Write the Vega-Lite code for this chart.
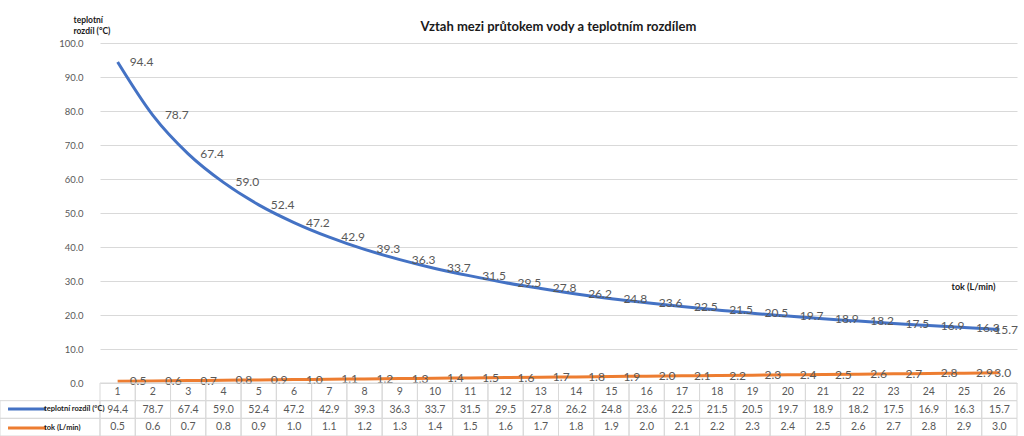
{
  "$schema": "https://vega.github.io/schema/vega-lite/v6.json",
  "autosize": "none",
  "width": 917,
  "height": 340,
  "padding": {"left": 100, "top": 43, "right": 7, "bottom": 53},
  "background": "white",
  "config": {"view": {"stroke": null}, "font": "Lato"},
  "title": {
    "text": "Vztah mezi průtokem vody a teplotním rozdílem",
    "fontSize": 13,
    "fontWeight": "bold",
    "color": "#1a1a1a",
    "anchor": "middle",
    "offset": -19
  },
  "datasets": {
    "d": [
      {"i": 1, "teplota": 94.4, "tok": 0.5},
      {"i": 2, "teplota": 78.7, "tok": 0.6},
      {"i": 3, "teplota": 67.4, "tok": 0.7},
      {"i": 4, "teplota": 59.0, "tok": 0.8},
      {"i": 5, "teplota": 52.4, "tok": 0.9},
      {"i": 6, "teplota": 47.2, "tok": 1.0},
      {"i": 7, "teplota": 42.9, "tok": 1.1},
      {"i": 8, "teplota": 39.3, "tok": 1.2},
      {"i": 9, "teplota": 36.3, "tok": 1.3},
      {"i": 10, "teplota": 33.7, "tok": 1.4},
      {"i": 11, "teplota": 31.5, "tok": 1.5},
      {"i": 12, "teplota": 29.5, "tok": 1.6},
      {"i": 13, "teplota": 27.8, "tok": 1.7},
      {"i": 14, "teplota": 26.2, "tok": 1.8},
      {"i": 15, "teplota": 24.8, "tok": 1.9},
      {"i": 16, "teplota": 23.6, "tok": 2.0},
      {"i": 17, "teplota": 22.5, "tok": 2.1},
      {"i": 18, "teplota": 21.5, "tok": 2.2},
      {"i": 19, "teplota": 20.5, "tok": 2.3},
      {"i": 20, "teplota": 19.7, "tok": 2.4},
      {"i": 21, "teplota": 18.9, "tok": 2.5},
      {"i": 22, "teplota": 18.2, "tok": 2.6},
      {"i": 23, "teplota": 17.5, "tok": 2.7},
      {"i": 24, "teplota": 16.9, "tok": 2.8},
      {"i": 25, "teplota": 16.3, "tok": 2.9},
      {"i": 26, "teplota": 15.7, "tok": 3.0}
    ]
  },
  "data": {"name": "d"},
  "layer": [
    {
      "transform": [{"fold": ["teplota", "tok"], "as": ["rada", "hodnota"]}],
      "encoding": {
        "x": {
          "field": "i",
          "type": "ordinal",
          "bandPosition": 0.5,
          "scale": {"type": "band", "paddingInner": 0, "paddingOuter": 0},
          "axis": {
            "labels": false,
            "ticks": false,
            "domain": false,
            "grid": false,
            "title": "tok (L/min)",
            "titleFontSize": 9,
            "titleFontWeight": "bold",
            "titleColor": "#1a1a1a",
            "titleX": 873,
            "titleY": -97,
            "titleAlign": "center",
            "titleBaseline": "middle"
          }
        },
        "y": {
          "field": "hodnota",
          "type": "quantitative",
          "scale": {"domain": [0, 100], "nice": false},
          "axis": {
            "values": [0, 10, 20, 30, 40, 50, 60, 70, 80, 90, 100],
            "tickCount": 20,
            "format": ".1f",
            "labelOverlap": false,
            "grid": true,
            "gridColor": "#d9d9d9",
            "domain": false,
            "ticks": false,
            "labelPadding": 17,
            "labelFontSize": 9.5,
            "labelColor": "#595959",
            "title": ["teplotní", "rozdíl (°C)"],
            "titleAngle": 0,
            "titleAlign": "left",
            "titleBaseline": "top",
            "titleX": -27,
            "titleY": -28,
            "titleFontSize": 8.5,
            "titleFontWeight": "bold",
            "titleColor": "#1a1a1a",
            "titleLineHeight": 11
          }
        }
      },
      "layer": [
        {
          "mark": {"type": "line", "interpolate": "monotone", "strokeWidth": 3},
          "encoding": {
            "color": {
              "field": "rada",
              "type": "nominal",
              "scale": {"domain": ["teplota", "tok"], "range": ["#4472C4", "#ED7D31"]},
              "legend": {
                "orient": "none",
                "legendX": -81,
                "legendY": 358,
                "title": null,
                "symbolType": "M-3,0H3",
                "symbolSize": 160,
                "symbolStrokeWidth": 3,
                "labelFontSize": 7.5,
                "labelFontWeight": "bold",
                "labelColor": "#1a1a1a",
                "labelOffset": 9,
                "rowPadding": 5,
                "labelExpr": "datum.label === 'teplota' ? 'teplotní rozdíl (°C)' : 'tok (L/min)'"
              }
            }
          }
        },
        {
          "transform": [{"filter": "datum.i < 26"}],
          "mark": {"type": "text", "align": "left", "baseline": "middle", "dx": 12, "fontSize": 12, "color": "#595959"},
          "encoding": {
            "text": {"field": "hodnota", "type": "quantitative", "format": ".1f"}
          }
        },
        {
          "transform": [{"filter": "datum.i == 26"}],
          "mark": {"type": "text", "align": "left", "baseline": "middle", "dx": -5, "fontSize": 12, "color": "#595959"},
          "encoding": {
            "text": {"field": "hodnota", "type": "quantitative", "format": ".1f"}
          }
        }
      ]
    },
    {
      "transform": [{"fold": ["i", "teplota", "tok"], "as": ["radek", "hodnota"]}],
      "encoding": {
        "x": {"field": "i", "type": "ordinal", "scale": {"type": "band", "paddingInner": 0, "paddingOuter": 0}, "axis": null},
        "y": {
          "field": "radek",
          "type": "nominal",
          "scale": {"type": "band", "domain": ["i", "teplota", "tok"], "range": [340, 393], "paddingInner": 0, "paddingOuter": 0},
          "axis": null
        }
      },
      "layer": [
        {
          "mark": {"type": "rect", "fill": "transparent", "stroke": "#d9d9d9", "strokeWidth": 1}
        },
        {
          "mark": {"type": "text", "align": "center", "baseline": "middle", "fontSize": 10.5, "color": "#595959"},
          "encoding": {
            "x": {"field": "i", "type": "ordinal", "bandPosition": 0.5},
            "y": {"field": "radek", "type": "nominal", "bandPosition": 0.5},
            "text": {
              "condition": {"test": "datum.radek === 'i'", "field": "hodnota", "type": "quantitative", "format": "d"},
              "field": "hodnota",
              "type": "quantitative",
              "format": ".1f"
            }
          }
        }
      ]
    },
    {
      "transform": [
        {"filter": "datum.i == 1"},
        {"fold": ["teplota", "tok"], "as": ["radek", "hodnota"]}
      ],
      "mark": {"type": "rect", "fill": "transparent", "stroke": "#d9d9d9", "strokeWidth": 1},
      "encoding": {
        "x": {"datum": 0, "type": "quantitative", "scale": {"domain": [0, 1], "range": [-100, 0]}, "axis": null},
        "x2": {"datum": 1},
        "y": {
          "field": "radek",
          "type": "nominal",
          "scale": {"type": "band", "domain": ["i", "teplota", "tok"], "range": [340, 393], "paddingInner": 0, "paddingOuter": 0},
          "axis": null
        }
      }
    }
  ],
  "resolve": {"scale": {"x": "independent", "y": "independent"}}
}
